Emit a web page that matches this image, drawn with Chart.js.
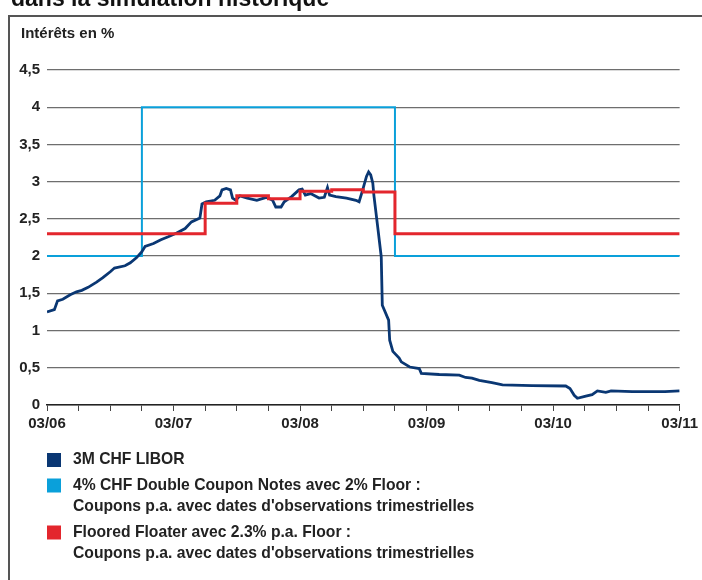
<!DOCTYPE html>
<html>
<head>
<meta charset="utf-8">
<script src="https://cdn.jsdelivr.net/npm/chart.js@4/dist/chart.umd.min.js"></script>
<style>
  html, body { margin: 0; padding: 0; background: #fff; }
  #wrap { width: 702px; height: 580px; position: relative; }
</style>
</head>
<body>
<div id="wrap"><canvas id="myChart" width="702" height="580"></canvas></div>
<script>
// mois depuis 03/2006
var liborMonths = [0, 0.7, 1.0, 1.5, 2.2, 2.8, 3.3, 3.9, 4.7, 5.3, 6.0, 6.4, 7.4, 7.9, 8.5, 9.0, 9.3, 10.1, 10.8, 11.5,
  12.3, 13.1, 13.7, 14.5, 14.7, 15.1, 15.9, 16.4, 16.6, 17.0, 17.4, 17.6, 17.9, 18.3, 19.0, 19.9, 20.8, 21.4, 21.7, 22.2,
  22.5, 23.2, 23.9, 24.2, 24.5, 25.0, 25.8, 26.3, 26.6, 26.8, 27.4, 28.4, 29.3, 29.6, 29.9, 30.3, 30.5, 30.7, 30.9, 31.0,
  31.4, 31.7, 31.8, 32.4, 32.5, 32.8, 33.4, 33.6, 34.4, 35.3, 35.5, 37.2, 39.1, 39.7, 40.3, 41.0, 42.2, 43.2, 46.0, 49.2,
  49.6, 50.0, 50.3, 51.1, 51.7, 52.2, 53.0, 53.5, 55.5, 58.6, 60];
var liborRates = [1.25, 1.28, 1.40, 1.42, 1.48, 1.52, 1.54, 1.58, 1.65, 1.71, 1.79, 1.84, 1.87, 1.91, 1.98, 2.06, 2.13, 2.17, 2.22, 2.26,
  2.31, 2.37, 2.46, 2.51, 2.70, 2.73, 2.75, 2.81, 2.89, 2.91, 2.89, 2.78, 2.75, 2.81, 2.78, 2.75, 2.79, 2.75, 2.66, 2.66,
  2.73, 2.80, 2.89, 2.90, 2.82, 2.84, 2.78, 2.79, 2.92, 2.82, 2.80, 2.78, 2.75, 2.73, 2.87, 3.07, 3.13, 3.09, 2.98, 2.82,
  2.35, 1.99, 1.34, 1.14, 0.87, 0.72, 0.63, 0.58, 0.51, 0.49, 0.425, 0.41, 0.40, 0.37, 0.36, 0.33, 0.30, 0.27, 0.26, 0.255,
  0.22, 0.13, 0.09, 0.12, 0.14, 0.19, 0.17, 0.19, 0.18, 0.18, 0.19];

var dcnMonths = [0, 9, 33, 60];
var dcnRates = [2, 4, 2, 2];

var ffMonths = [0, 15, 18, 21, 24, 27, 30, 33, 60];
var ffRates = [2.3, 2.71, 2.81, 2.77, 2.87, 2.89, 2.86, 2.3, 2.3];

var yearLabels = ['03/06', '03/07', '03/08', '03/09', '03/10', '03/11'];
var legendLabels = [
  ['3M CHF LIBOR'],
  ['4% CHF Double Coupon Notes avec 2% Floor :', 'Coupons p.a. avec dates d\'observations trimestrielles'],
  ['Floored Floater avec 2.3% p.a. Floor :', 'Coupons p.a. avec dates d\'observations trimestrielles']
];
var colors = ['#0a3773', '#0aa0da', '#e3262d'];

function toPoints(xs, ys) {
  return xs.map(function (x, i) { return { x: x, y: ys[i] }; });
}

var FONT = "'Liberation Sans', Arial, sans-serif";
var TXT = '#222';

// cadre, titre coupé, label d'axe et légende
var decor = {
  id: 'decor',
  beforeDraw: function (chart) {
    var c = chart.ctx;
    c.save();
    c.fillStyle = '#fff';
    c.fillRect(0, 0, chart.width, chart.height);
    c.strokeStyle = '#555';
    c.lineWidth = 2;
    c.beginPath();
    c.moveTo(9, 580);
    c.lineTo(9, 16);
    c.lineTo(702, 16);
    c.stroke();
    c.fillStyle = '#111';
    c.font = 'bold 23px ' + FONT;
    c.textBaseline = 'alphabetic';
    c.fillText('dans la simulation historique', 11, 6);
    c.fillStyle = TXT;
    c.font = 'bold 15px ' + FONT;
    c.fillText('Intérêts en %', 21, 38);
    c.restore();
  },
  afterDraw: function (chart) {
    var c = chart.ctx;
    c.save();
    c.font = 'bold 15.7px ' + FONT;
    c.textBaseline = 'middle';
    var y = 460;
    legendLabels.forEach(function (lines, i) {
      c.fillStyle = colors[i];
      c.fillRect(47, y - 7, 14, 14);
      c.fillStyle = TXT;
      lines.forEach(function (t, j) {
        c.fillText(t, 73, y + j * 21.5);
      });
      y += 25.5 + (lines.length - 1) * 21.5;
    });
    c.restore();
  }
};

var ctx = document.getElementById('myChart').getContext('2d');
var myChart = new Chart(ctx, {
  type: 'line',
  data: {
    datasets: [{
      label: legendLabels[0][0],
      data: toPoints(liborMonths, liborRates),
      borderColor: colors[0],
      borderWidth: 2.8,
      pointRadius: 0,
      order: 1
    }, {
      label: legendLabels[1][0],
      data: toPoints(dcnMonths, dcnRates),
      borderColor: colors[1],
      borderWidth: 2,
      pointRadius: 0,
      stepped: 'before',
      order: 2
    }, {
      label: legendLabels[2][0],
      data: toPoints(ffMonths, ffRates),
      borderColor: colors[2],
      borderWidth: 3,
      pointRadius: 0,
      stepped: 'before',
      order: 0
    }]
  },
  options: {
    responsive: false,
    animation: false,
    layout: { padding: { top: 70, right: 21, left: 0, bottom: 0 } },
    plugins: { legend: { display: false }, tooltip: { enabled: false } },
    scales: {
      x: {
        type: 'linear',
        min: 0,
        max: 60,
        afterFit: function (s) { s.height = 175; },
        border: { display: true, color: '#222', width: 1.5 },
        grid: { drawOnChartArea: false, drawTicks: true, tickLength: 6, tickColor: '#444', tickWidth: 1 },
        ticks: {
          stepSize: 3,
          autoSkip: false,
          maxRotation: 0,
          padding: 4,
          color: TXT,
          font: { family: FONT, weight: 'bold', size: 15 },
          callback: function (v) { return v % 12 === 0 ? yearLabels[v / 12] : ''; }
        }
      },
      y: {
        min: 0,
        max: 4.5,
        afterFit: function (s) { s.width = 47; },
        border: { display: false },
        grid: { color: '#6e6e6e', lineWidth: 1.3, drawTicks: false },
        ticks: {
          stepSize: 0.5,
          padding: 7,
          color: TXT,
          font: { family: FONT, weight: 'bold', size: 15 },
          callback: function (v) { return String(Math.round(v * 10) / 10).replace('.', ','); }
        }
      }
    }
  },
  plugins: [decor]
});
</script>
</body>
</html>
